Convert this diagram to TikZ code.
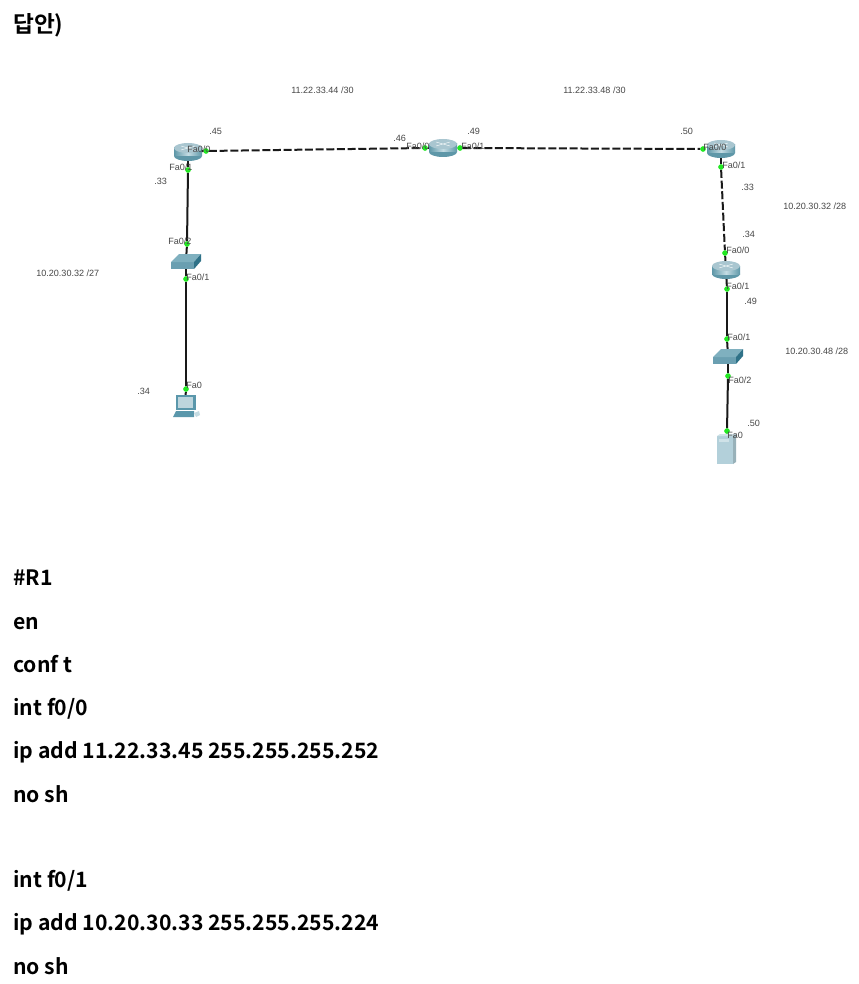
\documentclass[tikz,border=0pt]{standalone}
\usepackage{fontspec}
\setmainfont{Noto Sans CJK KR}[BoldFont={Noto Sans CJK KR Bold}]
\newfontfamily\lab{Liberation Sans}
\newfontfamily\kor{Noto Sans CJK KR Bold}
\definecolor{rtop}{HTML}{A9C6D0}
\definecolor{rmid}{HTML}{C4DCE3}
\definecolor{rdark}{HTML}{5E97A8}
\definecolor{swtop}{HTML}{7FB0BF}
\definecolor{swfront}{HTML}{6A9FB1}
\definecolor{swside}{HTML}{2F7288}
\definecolor{srv}{HTML}{B3D0DA}
\definecolor{srvside}{HTML}{CFE2E8}
\definecolor{pcblue}{HTML}{5A97AB}
\definecolor{portg}{HTML}{22E822}
\tikzset{
  x=0.75pt,y=-0.75pt,
  lbl/.style={anchor=west,inner sep=0pt,font=\lab\fontsize{6.8}{8}\selectfont,text=black!72},
  body/.style={anchor=base west,inner sep=0pt,font=\kor\fontsize{15.9}{18}\selectfont,text=black},
  port/.style={circle,fill=portg,inner sep=0pt,minimum size=4pt},
  dev/.style={inner sep=0pt,minimum size=2pt},
  wire/.style={line width=1.5pt,black!90},
  dashwire/.style={line width=1.5pt,black!90,dash pattern=on 6pt off 2pt},
}
\newcommand{\routericon}[1]{%
  \begin{scope}[shift={(#1)}]
    \fill[rdark] (0,4) ellipse[x radius=14,y radius=5];
    \shade[left color=rdark,right color=rdark,middle color=rmid] (-14,-4) rectangle (14,4);
    \fill[rtop] (0,-4) ellipse[x radius=14,y radius=5];
    \draw[white,line width=0.3pt] (-7,-6) -- (7,-2) (-7,-2) -- (7,-6);
  \end{scope}}
\newcommand{\switchicon}[1]{%
  \begin{scope}[shift={(#1)}]
    \fill[swfront] (-15,1) rectangle (8,8);
    \fill[swtop] (-15,1) -- (-7,-7) -- (15,-7) -- (8,1) -- cycle;
    \fill[swside] (8,1) -- (15,-7) -- (15,0) -- (8,8) -- cycle;
  \end{scope}}
\newcommand{\pcicon}[1]{%
  \begin{scope}[shift={(#1)}]
    \fill[pcblue] (-9,-10) rectangle (11,5);
    \fill[pcblue!40!white] (-7,-8) rectangle (8,3);
    \fill[pcblue] (-12,12) -- (-9,6) -- (9,6) -- (9,12) -- cycle;
    \fill[pcblue!35!white] (9,8) -- (14,6) -- (15,10) -- (11,12) -- cycle;
  \end{scope}}
\newcommand{\servericon}[1]{%
  \begin{scope}[shift={(#1)}]
    \fill[srv] (-9,-13) rectangle (7,15);
    \fill[srvside] (-9,-13) -- (-6,-15) -- (10,-15) -- (7,-13) -- cycle;
    \fill[srv!85!black] (7,-13) -- (10,-15) -- (10,13) -- (7,15) -- cycle;
    \fill[srvside] (-7,-10) rectangle (3,-7);
  \end{scope}}
\begin{document}
\begin{tikzpicture}
\useasboundingbox (0,0) rectangle (858,984);
\fill[white] (0,0) rectangle (858,984);
% devices
\node[dev] (r1) at (188,152) {};
\node[dev] (r2) at (443,148) {};
\node[dev] (r3) at (721,149) {};
\node[dev] (r4) at (726,270) {};
\node[dev] (s1) at (186,261) {};
\node[dev] (s2) at (728,356) {};
\node[dev] (pc) at (185,405) {};
\node[dev] (srv) at (726,449) {};
% ports
\node[port] (r1a) at (206,151) {};
\node[port] (r1b) at (188,170) {};
\node[port] (s1a) at (187,244) {};
\node[port] (s1b) at (186,279) {};
\node[port] (pca) at (186,389) {};
\node[port] (r2a) at (425,148) {};
\node[port] (r2b) at (460,148) {};
\node[port] (r3a) at (703,149) {};
\node[port] (r3b) at (721,167) {};
\node[port] (r4a) at (725,253) {};
\node[port] (r4b) at (727,289) {};
\node[port] (s2a) at (727,339) {};
\node[port] (s2b) at (728,376) {};
\node[port] (srva) at (727,431) {};
% connectors
\draw[wire] (r1) -- (r1a);
\draw[wire] (r1) -- (r1b);
\draw[wire] (r1b) -- (s1a);
\draw[wire] (s1a) -- (s1);
\draw[wire] (s1) -- (s1b);
\draw[wire] (s1b) -- (pca);
\draw[wire] (pca) -- (pc);
\draw[dashwire] (r1a) -- (r2a);
\draw[wire] (r2a) -- (r2);
\draw[wire] (r2) -- (r2b);
\draw[dashwire] (r2b) -- (r3a);
\draw[wire] (r3) -- (r3b);
\draw[dashwire] (r3b) -- (r4a);
\draw[wire] (r4a) -- (r4);
\draw[wire] (r4) -- (r4b);
\draw[wire] (r4b) -- (s2a);
\draw[wire] (s2a) -- (s2);
\draw[wire] (s2) -- (s2b);
\draw[wire] (s2b) -- (srva);
\draw[wire] (srva) -- (srv);
% icons
\routericon{r1}\routericon{r2}\routericon{r3}\routericon{r4}
\switchicon{s1}\switchicon{s2}
\pcicon{pc}\servericon{srv}
\node[port] at (r1a) {};\node[port] at (r1b) {};\node[port] at (s1a) {};\node[port] at (s1b) {};
\node[port] at (pca) {};\node[port] at (r2a) {};\node[port] at (r2b) {};\node[port] at (r3a) {};
\node[port] at (r3b) {};\node[port] at (r4a) {};\node[port] at (r4b) {};\node[port] at (s2a) {};
\node[port] at (s2b) {};\node[port] at (srva) {};
% labels
\node[lbl] (t1) at (291,90.5) {11.22.33.44 /30};
\node[lbl] (t2) at (563,90.5) {11.22.33.48 /30};
\node[lbl] (t3) at (209,131) {.45};
\node[lbl] (t4) at (393,138.5) {.46};
\node[lbl] (t5) at (467,131.5) {.49};
\node[lbl] (t6) at (680,131.5) {.50};
\node[lbl] (t7) at (154,181.5) {.33};
\node[lbl] (t8) at (187,149.5) {Fa0/0};
\node[lbl] (t9) at (406,146.5) {Fa0/0};
\node[lbl] (t10) at (461,146.5) {Fa0/1};
\node[lbl] (t11) at (703,147.5) {Fa0/0};
\node[lbl] (t12) at (722,165.5) {Fa0/1};
\node[lbl] (t13) at (741,187.5) {.33};
\node[lbl] (t14) at (783,206.5) {10.20.30.32 /28};
\node[lbl] (t15) at (742,234.5) {.34};
\node[lbl] (t16) at (726,250.5) {Fa0/0};
\node[lbl] (t17) at (726,286.5) {Fa0/1};
\node[lbl] (t18) at (744,301.5) {.49};
\node[lbl] (t19) at (727,337.5) {Fa0/1};
\node[lbl] (t20) at (785,351.5) {10.20.30.48 /28};
\node[lbl] (t21) at (728,380.5) {Fa0/2};
\node[lbl] (t22) at (747,423.5) {.50};
\node[lbl] (t23) at (727,435.5) {Fa0};
\node[lbl] (t24) at (169,167.5) {Fa0/1};
\node[lbl] (t25) at (168,241.5) {Fa0/2};
\node[lbl] (t26) at (186,277.5) {Fa0/1};
\node[lbl] (t27) at (36,273.5) {10.20.30.32 /27};
\node[lbl] (t28) at (137,391.5) {.34};
\node[lbl] (t29) at (186,385.5) {Fa0};
% body text
\node[body,font=\kor\fontsize{17}{20}\selectfont] (b0) at (13,33) {답안)};
\node[body] (b1) at (13,585) {\#R1};
\node[body] (b2) at (13,629) {en};
\node[body] (b3) at (13,672) {conf t};
\node[body] (b4) at (13,715) {int f0/0};
\node[body] (b5) at (13,758) {ip add 11.22.33.45 255.255.255.252};
\node[body] (b6) at (13,802) {no sh};
\node[body] (b7) at (13,887) {int f0/1};
\node[body] (b8) at (13,930) {ip add 10.20.30.33 255.255.255.224};
\node[body] (b9) at (13,974) {no sh};
\end{tikzpicture}
\end{document}
